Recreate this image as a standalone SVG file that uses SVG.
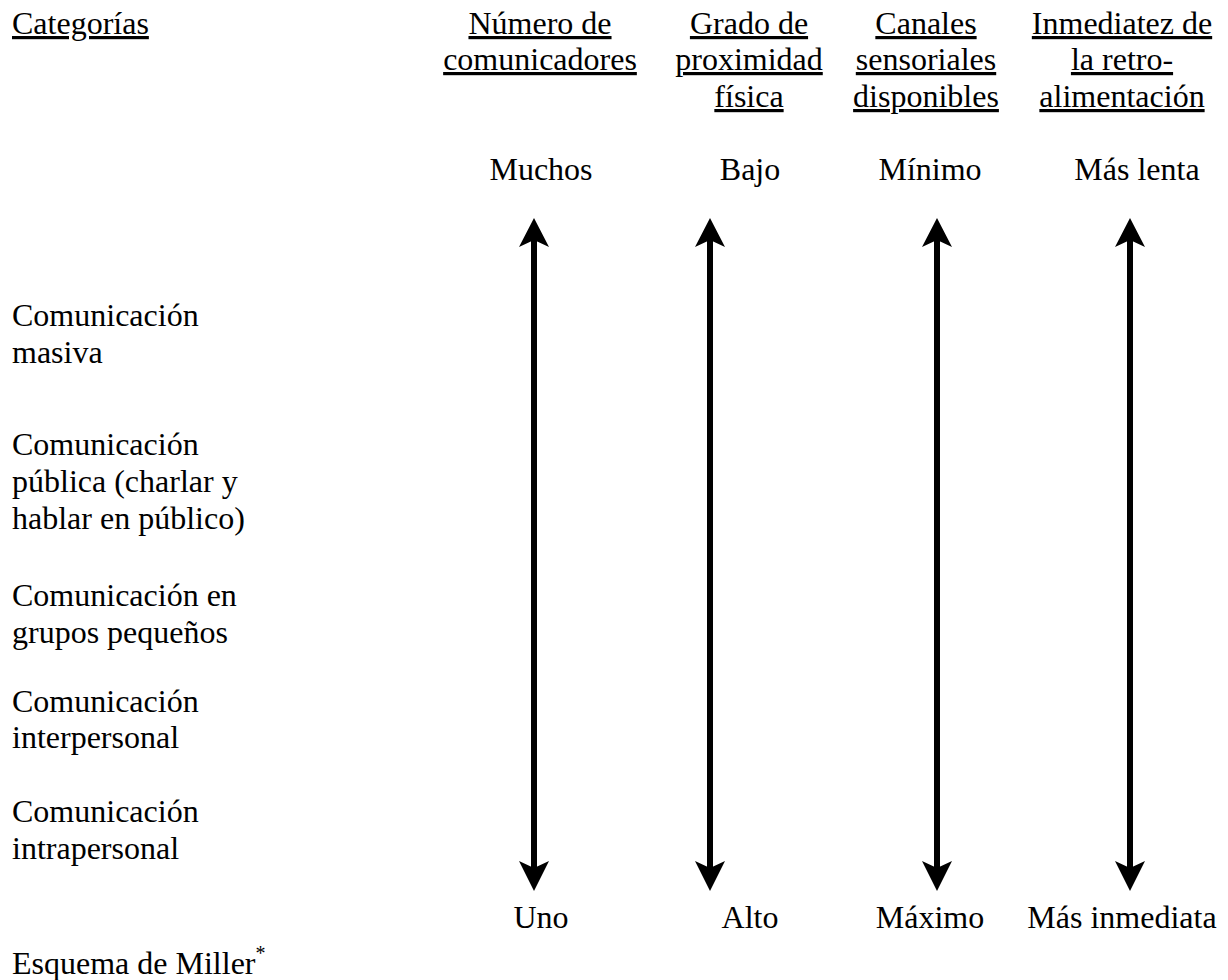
<svg xmlns="http://www.w3.org/2000/svg" width="1228" height="980" viewBox="0 0 1228 980">
<style>
text{font-family:"Liberation Serif","Times New Roman",serif;font-size:32px;fill:#000}
.u{text-decoration:underline}
.c{text-anchor:middle}
.shaft{stroke:#000;stroke-width:6;fill:none}
.head{fill:#000;stroke:none}
</style>
<rect width="1228" height="980" fill="#fff"/>
<g id="header-categorias"><text x="12" y="34" class="u">Categorías</text></g>
<g id="col-comunicadores">
<text x="540" y="34" class="u c">Número de</text>
<text x="540" y="70" class="u c">comunicadores</text>
<text x="541" y="180" class="c">Muchos</text>
<text x="541" y="928" class="c">Uno</text>
</g>
<g id="col-proximidad">
<text x="749" y="34" class="u c">Grado de</text>
<text x="749" y="70" class="u c">proximidad</text>
<text x="749" y="107" class="u c">física</text>
<text x="750" y="180" class="c">Bajo</text>
<text x="750" y="928" class="c">Alto</text>
</g>
<g id="col-canales">
<text x="926" y="34" class="u c">Canales</text>
<text x="926" y="70" class="u c">sensoriales</text>
<text x="926" y="107" class="u c">disponibles</text>
<text x="930" y="180" class="c">Mínimo</text>
<text x="930" y="928" class="c">Máximo</text>
</g>
<g id="col-inmediatez">
<text x="1122" y="34" class="u c">Inmediatez de</text>
<text x="1122" y="70" class="u c">la retro-</text>
<text x="1122" y="107" class="u c">alimentación</text>
<text x="1137" y="180" class="c">Más lenta</text>
<text x="1122" y="928" class="c">Más inmediata</text>
</g>
<g id="cat-masiva"><text x="12" y="326">Comunicación</text><text x="12" y="363">masiva</text></g>
<g id="cat-publica"><text x="12" y="455">Comunicación</text><text x="12" y="492">pública (charlar y</text><text x="12" y="529">hablar en público)</text></g>
<g id="cat-grupos"><text x="12" y="606">Comunicación en</text><text x="12" y="643">grupos pequeños</text></g>
<g id="cat-interpersonal"><text x="12" y="712">Comunicación</text><text x="12" y="748">interpersonal</text></g>
<g id="cat-intrapersonal"><text x="12" y="822">Comunicación</text><text x="12" y="859">intrapersonal</text></g>
<g id="footer"><text x="12" y="974">Esquema de Miller<tspan font-size="20" dy="-14">*</tspan></text></g>
<g id="connectors">
<g transform="translate(534,0)"><line class="shaft" x1="0" y1="240" x2="0" y2="868"/><path class="head" d="M0,218 L15,247 L0,240 L-15,247 Z"/><path class="head" d="M0,891 L15,861 L0,868 L-15,861 Z"/></g>
<g transform="translate(710,0)"><line class="shaft" x1="0" y1="240" x2="0" y2="868"/><path class="head" d="M0,218 L15,247 L0,240 L-15,247 Z"/><path class="head" d="M0,891 L15,861 L0,868 L-15,861 Z"/></g>
<g transform="translate(937,0)"><line class="shaft" x1="0" y1="240" x2="0" y2="868"/><path class="head" d="M0,218 L15,247 L0,240 L-15,247 Z"/><path class="head" d="M0,891 L15,861 L0,868 L-15,861 Z"/></g>
<g transform="translate(1130,0)"><line class="shaft" x1="0" y1="240" x2="0" y2="868"/><path class="head" d="M0,218 L15,247 L0,240 L-15,247 Z"/><path class="head" d="M0,891 L15,861 L0,868 L-15,861 Z"/></g>
</g>
</svg>
